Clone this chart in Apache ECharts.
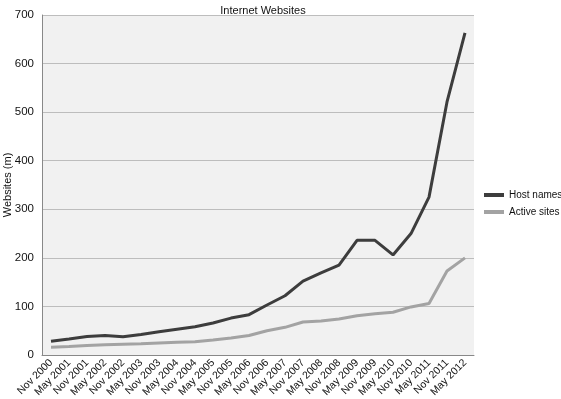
<!DOCTYPE html>
<html><head><meta charset="utf-8">
<script src="https://cdn.jsdelivr.net/npm/echarts@6/dist/echarts.min.js"></script>
<style>html,body{margin:0;padding:0;background:#fff}#c{width:561px;height:399px}</style>
</head><body><div id="c"></div>
<script>
const categories = ["Nov 2000","May 2001","Nov 2001","May 2002","Nov 2002","May 2003","Nov 2003","May 2004","Nov 2004","May 2005","Nov 2005","May 2006","Nov 2006","May 2007","Nov 2007","May 2008","Nov 2008","May 2009","Nov 2009","May 2010","Nov 2010","May 2011","Nov 2011","May 2012"];
const hostNames = [28.5,33,38,40,37.5,42,48,53,58,66,76,83,103,122,152,169,185,236,236,206,250,325,521,663];
const activeSites = [16,17.5,19.5,21,22,23,24.5,26,27.5,31,35,40,50,57,68,70,74,81,85,88,99,106,173,200];
const yTicks = [0,100,200,300,400,500,600,700];

const chart = echarts.init(document.getElementById('c'));
const font = 'Liberation Sans, Arial, sans-serif';
chart.setOption({
  animation:false,
  title:{text:'Internet Websites',left:258,textAlign:'center',top:0,textStyle:{fontFamily:font,fontSize:11,fontWeight:'normal',color:'#111'}},
  grid:{left:42,right:87,top:15,bottom:44,show:true,backgroundColor:'#f1f1f1',borderWidth:0,containLabel:false,outerBoundsMode:'none'},
  legend:{orient:'vertical',left:484,top:190,padding:0,itemWidth:20,itemHeight:4,itemGap:7,icon:'rect',
    textStyle:{fontFamily:font,fontSize:10,color:'#111'},
    data:['Host names','Active sites']},
  xAxis:{type:'category',data:categories,boundaryGap:true,
    axisLine:{lineStyle:{color:'#888',width:1}},axisTick:{show:false},
    axisLabel:{rotate:45,interval:0,fontFamily:font,fontSize:10.5,color:'#111',margin:6}},
  yAxis:{type:'value',min:0,max:700,interval:100,name:'Websites (m)',nameLocation:'middle',nameGap:29,nameMoveOverlap:false,
    nameTextStyle:{fontFamily:font,fontSize:11,color:'#111'},
    axisLine:{show:true,lineStyle:{color:'#888',width:1}},axisTick:{show:false},
    axisLabel:{fontFamily:font,fontSize:11.5,color:'#111',margin:8,formatter:v=>yTicks.includes(v)?String(v):''},
    splitLine:{lineStyle:{color:'#bdbdbd',width:1}}},
  series:[
    {name:'Host names',type:'line',data:hostNames,symbol:'none',lineStyle:{color:'#3d3d3d',width:3},itemStyle:{color:'#3d3d3d'}},
    {name:'Active sites',type:'line',data:activeSites,symbol:'none',lineStyle:{color:'#a3a3a3',width:3},itemStyle:{color:'#a3a3a3'}}
  ]
});
</script></body></html>
